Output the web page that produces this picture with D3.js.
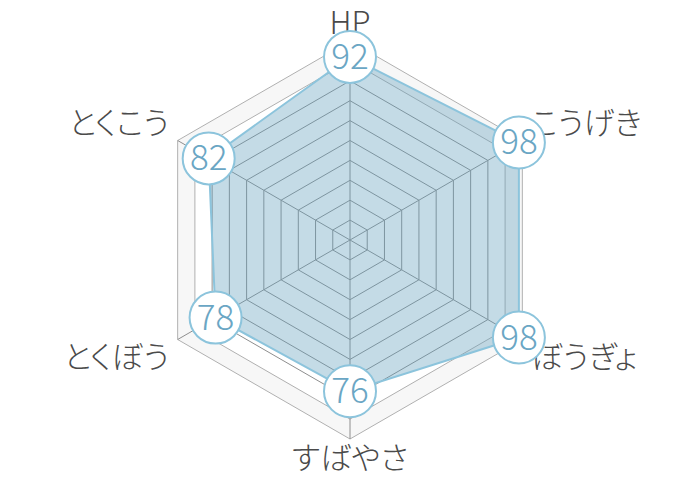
<!DOCTYPE html>
<html>
<head>
<meta charset="utf-8">
<script src="https://cdn.jsdelivr.net/npm/d3@7"></script>
<style>
  html, body { margin: 0; padding: 0; background: #fff; }
  svg { display: block; }
  text { font-feature-settings: "palt"; }
</style>
</head>
<body>
<svg id="chart" width="700" height="480"></svg>
<script>
const categories = ["HP", "こうげき", "ぼうぎょ", "すばやさ", "とくぼう", "とくこう"];
const values = [92, 98, 98, 76, 78, 82];
const levels = [10, 20, 30, 40, 50, 60, 70, 80, 90, 100];

const W = 700, H = 480, cx = 350, cy = 240;
const r = d3.scaleLinear().domain([0, 100]).range([0, 199]);
const angle = d3.scaleLinear().domain([0, categories.length]).range([0, 2 * Math.PI]);
const pt = (i, v) => [cx + r(v) * Math.sin(angle(i)), cy - r(v) * Math.cos(angle(i))];
const ring = v => categories.map((c, i) => pt(i, v));
const line = d3.line().curve(d3.curveLinearClosed);

const svg = d3.select("#chart");
const jp = "'Noto Sans CJK JP', 'Noto Sans', sans-serif";

// outer band
svg.append("path")
  .attr("d", line(ring(100)) + line(ring(90).slice().reverse()))
  .attr("fill", "#f7f7f7")
  .attr("fill-rule", "evenodd");

// grid rings
svg.selectAll("path.ring").data(levels).join("path")
  .attr("class", "ring")
  .attr("d", v => line(ring(v)))
  .attr("fill", "none")
  .attr("stroke", v => v >= 90 ? "#b0b0b0" : "#8e8e8e")
  .attr("stroke-width", 1);

// axes
svg.selectAll("line.axis").data(categories).join("line")
  .attr("class", "axis")
  .attr("x1", cx).attr("y1", cy)
  .attr("x2", (d, i) => pt(i, 100)[0])
  .attr("y2", (d, i) => pt(i, 100)[1])
  .attr("stroke", "#8e8e8e")
  .attr("stroke-width", 1);

// data polygon
svg.append("path")
  .attr("d", line(values.map((v, i) => pt(i, v))))
  .attr("fill", "rgba(100,160,190,0.38)")
  .attr("stroke", "#8cc4dc")
  .attr("stroke-width", 2);

// category labels
svg.selectAll("text.cat").data(categories).join("text")
  .attr("class", "cat")
  .attr("x", (d, i) => pt(i, 105)[0])
  .attr("y", (d, i) => pt(i, 105)[1])
  .attr("text-anchor", (d, i) => i === 0 || i === 3 ? "middle" : (i < 3 ? "start" : "end"))
  .attr("dy", (d, i) => i === 0 ? 3 : (i === 3 ? 20 : (i === 1 || i === 5 ? -2 : 24)))
  .attr("font-family", jp)
  .attr("font-size", 31)
  .attr("font-weight", 300)
  .attr("fill", "#4a4a4a")
  .text(d => d);

// value markers
const marks = svg.selectAll("g.mark").data(values).join("g")
  .attr("class", "mark")
  .attr("transform", (v, i) => `translate(${pt(i, v)[0]},${pt(i, v)[1]})`);
marks.append("circle")
  .attr("r", 26)
  .attr("fill", "#fff")
  .attr("stroke", "#8cc4dc")
  .attr("stroke-width", 2);
marks.append("text")
  .attr("text-anchor", "middle")
  .attr("dy", 12)
  .attr("font-family", jp)
  .attr("font-size", 35)
  .attr("font-weight", 300)
  .attr("fill", "#6aa6c4")
  .text(v => v);
</script>
</body>
</html>
